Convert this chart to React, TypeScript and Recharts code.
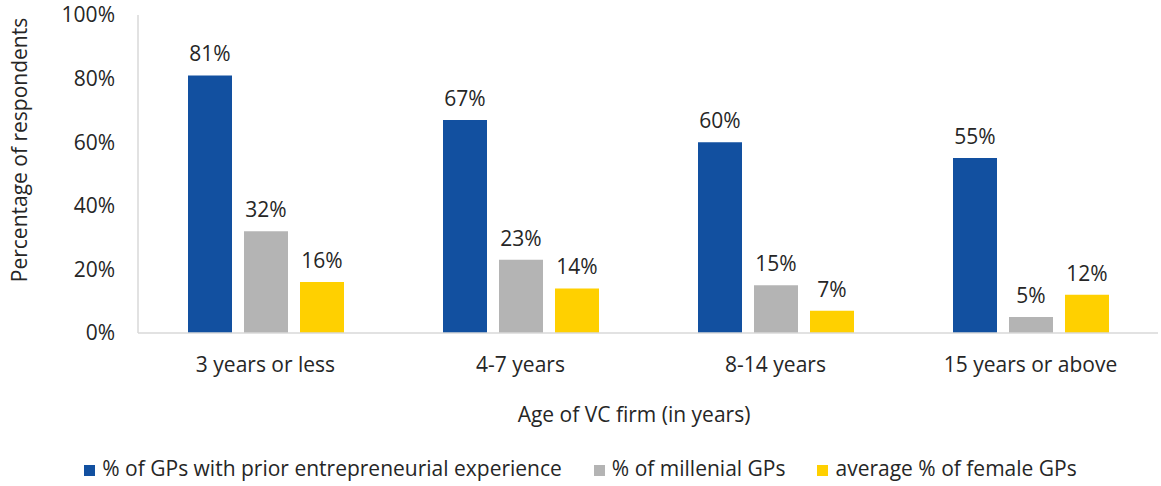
import React from 'react';
import { BarChart, Bar, XAxis, YAxis, Legend, LabelList } from 'recharts';

const categories = ['3 years or less', '4-7 years', '8-14 years', '15 years or above'];
const entrepreneurial = [81, 67, 60, 55];
const millenial = [32, 23, 15, 5];
const female = [16, 14, 7, 12];
const yTicks = [0, 20, 40, 60, 80, 100];

const data = categories.map((name, i) => ({
  name,
  entrepreneurial: entrepreneurial[i],
  millenial: millenial[i],
  female: female[i],
}));

const FONT = '"Open Sans", sans-serif';
const TEXT = '#262626';
const SIZE = 21;
const pct = (v: number) => `${v}%`;

const legendText = (value: string) => (
  <span style={{ color: TEXT, marginLeft: 3, marginRight: 22 }}>{value}</span>
);

export default function App() {
  return (
    <div style={{ position: 'absolute', left: 0, top: 0, fontFamily: FONT }}>
      <BarChart
        width={1161}
        height={486}
        data={data}
        margin={{ top: 15, right: 3, bottom: 63, left: 0 }}
        barSize={44}
        barGap={12}
        style={{ overflow: 'visible' }}
      >
        <XAxis
          dataKey="name"
          axisLine={{ stroke: '#d9d9d9', strokeWidth: 1.5 }}
          tickLine={false}
          tickMargin={18}
          height={90}
          tick={{ fill: TEXT, fontSize: SIZE, fontFamily: FONT }}
          label={{ value: 'Age of VC firm (in years)', position: 'insideBottom', offset: 1, dx: -14, fill: TEXT, fontSize: SIZE, fontFamily: FONT }}
        />
        <YAxis
          domain={[0, 100]}
          ticks={yTicks}
          tickFormatter={pct}
          width={138}
          axisLine={{ stroke: '#d9d9d9', strokeWidth: 1.5 }}
          tickLine={false}
          tickMargin={17}
          tick={{ fill: TEXT, fontSize: SIZE, fontFamily: FONT }}
          label={{ value: 'Percentage of respondents', angle: -90, position: 'center', dx: -49, dy: -24, fill: TEXT, fontSize: SIZE, fontFamily: FONT }}
        />
        <Legend
          verticalAlign="middle"
          align="center"
          iconType="square"
          iconSize={11}
          formatter={legendText}
          wrapperStyle={{ top: 454, left: 16, width: 1161, fontSize: SIZE, fontFamily: FONT }}
        />
        <Bar dataKey="entrepreneurial" name="% of GPs with prior entrepreneurial experience" fill="#1250a0" isAnimationActive={false}>
          <LabelList dataKey="entrepreneurial" position="top" offset={14} formatter={pct} fill={TEXT} fontSize={SIZE} fontFamily={FONT} />
        </Bar>
        <Bar dataKey="millenial" name="% of millenial GPs" fill="#b4b4b4" isAnimationActive={false}>
          <LabelList dataKey="millenial" position="top" offset={14} formatter={pct} fill={TEXT} fontSize={SIZE} fontFamily={FONT} />
        </Bar>
        <Bar dataKey="female" name="average % of female GPs" fill="#ffd000" isAnimationActive={false}>
          <LabelList dataKey="female" position="top" offset={14} formatter={pct} fill={TEXT} fontSize={SIZE} fontFamily={FONT} />
        </Bar>
      </BarChart>
    </div>
  );
}
